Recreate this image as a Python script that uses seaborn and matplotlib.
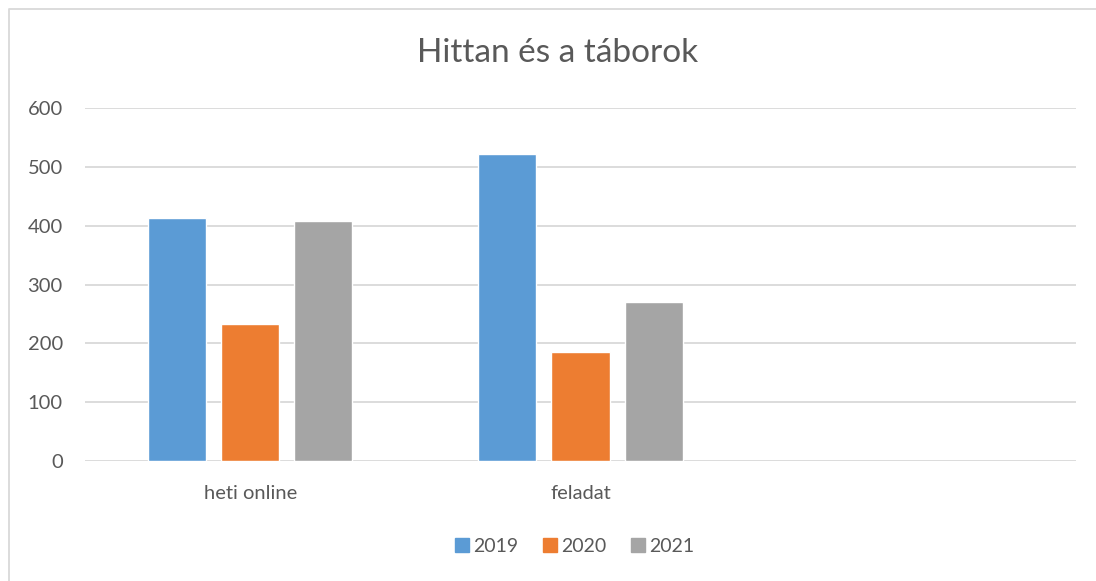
import pandas as pd
import matplotlib.pyplot as plt
import seaborn as sns
from matplotlib.lines import Line2D

sns.set_theme(style="white")
plt.rcParams['font.family'] = ['Lato', 'DejaVu Sans']

# === DATA ===
categories = ["heti online", "feladat", ""]
years = ["2019", "2020", "2021"]
values_2019 = [413, 521]
values_2020 = [233, 186]
values_2021 = [408, 270]
colors = ["#5B9BD5", "#ED7D31", "#A5A5A5"]

df = pd.DataFrame({
    "Kategoria": categories[:2] * 3,
    "Ev": [y for y in years for _ in range(2)],
    "Ertek": values_2019 + values_2020 + values_2021,
})

fig = plt.figure(figsize=(10.96, 5.81), dpi=100)
ax = fig.add_axes([85 / 1096, 120 / 581, 991 / 1096, 353 / 581])

sns.barplot(data=df, x="Kategoria", y="Ertek", hue="Ev", order=categories,
            hue_order=years, palette=colors, width=0.664, gap=0.205,
            saturation=1, ax=ax, legend=False)

# Formatting
ax.set_xlim(-0.5, 2.5)
ax.set_ylim(0, 600)
ax.set_yticks(range(0, 601, 100))
ax.yaxis.grid(True, color="#D9D9D9", linewidth=1.3)
ax.set_axisbelow(True)
for s in ax.spines.values():
    s.set_visible(False)
ax.set_xlabel("")
ax.set_ylabel("")
ax.tick_params(axis="both", length=0, colors="#595959", labelsize=14.5)
ax.tick_params(axis="x", pad=17)
ax.tick_params(axis="y", pad=16)

fig.text(0.509, 1 - 53 / 581, "Hittan és a táborok", ha="center", va="center",
         fontsize=24, color="#595959")

handles = [Line2D([], [], marker="s", linestyle="", markersize=10,
                  markerfacecolor=c, markeredgecolor=c) for c in colors]
fig.legend(handles, years, loc="center", bbox_to_anchor=(0.523, 1 - 546 / 581),
           ncol=3, frameon=False, fontsize=14, labelcolor="#595959",
           handletextpad=0.1, columnspacing=1.1, handlelength=1.0)

# outer border (top and left visible)
fig.add_artist(Line2D([9 / 1096, 9 / 1096, 1], [0, 1 - 8.5 / 581, 1 - 8.5 / 581],
                      color="#D9D9D9", linewidth=1.3))

plt.savefig("out.png", dpi=100)
